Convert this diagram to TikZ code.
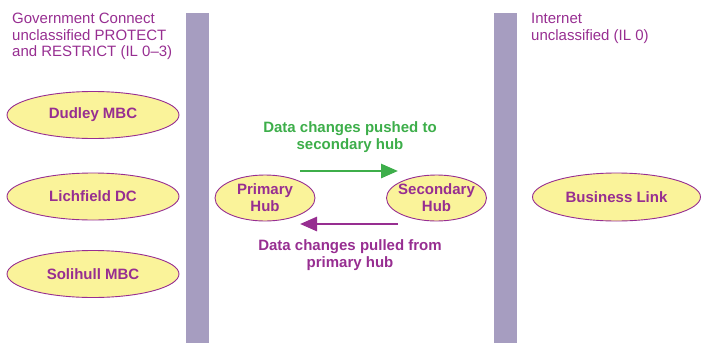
\documentclass[tikz,border=0pt]{standalone}
\usepackage{fontspec}
\setmainfont{Liberation Sans}
\usetikzlibrary{shapes.geometric,arrows.meta}
\definecolor{pur}{HTML}{972E91}
\definecolor{bar}{HTML}{A69DC0}
\definecolor{ylw}{HTML}{FAF39A}
\definecolor{grn}{HTML}{3DAE4A}
\tikzset{
  org/.style={ellipse,draw=pur,line width=0.9pt,fill=ylw,text=pur,font=\fontsize{15}{17}\selectfont\bfseries,inner sep=0pt},
  zone/.style={text=pur,font=\fontsize{15}{16.5}\selectfont,align=left,anchor=north west,inner sep=0pt},
  lbl/.style={font=\fontsize{15}{17.5}\selectfont\bfseries,align=center,inner sep=0pt},
  flow/.style={line width=2.8pt,-{Triangle[length=17pt,width=14pt]}},
}
\begin{document}
\begin{tikzpicture}[x=1pt,y=-1pt]
\useasboundingbox (0,0) rectangle (701,343);
\fill[bar] (185.5,13) rectangle (209,343);
\fill[bar] (494,13) rectangle (517,343);
\node[zone] (gc) at (12,13) {Government Connect\\unclassified PROTECT\\and RESTRICT (IL 0--3)};
\node[zone] (inet) at (531,13) {Internet\\unclassified (IL 0)};
\node[org,minimum width=172pt,minimum height=47pt] (dud) at (93,115) {Dudley MBC};
\node[org,minimum width=172pt,minimum height=47pt] (lich) at (93,196.5) {Lichfield DC};
\node[org,minimum width=172pt,minimum height=47pt] (sol) at (93,274) {Solihull MBC};
\node[org,minimum width=100pt,minimum height=46pt,inner xsep=-4.5pt,align=center] (prim) at (265,198) {Primary\\Hub};
\node[org,minimum width=100pt,minimum height=46pt,inner xsep=-4.5pt,align=center] (sec) at (436.5,198) {Secondary\\Hub};
\node[org,minimum width=168pt,minimum height=48pt] (bl) at (616.5,197) {Business Link};
\coordinate (g1) at (300,171);
\coordinate (g2) at (398,171);
\coordinate (p1) at (398,224);
\coordinate (p2) at (300,224);
\draw[flow,grn] (g1) -- (g2);
\draw[flow,pur] (p1) -- (p2);
\node[lbl,text=grn] (push) at (350,137) {Data changes pushed to\\secondary hub};
\node[lbl,text=pur] (pull) at (350,255) {Data changes pulled from\\primary hub};
\end{tikzpicture}
\end{document}
